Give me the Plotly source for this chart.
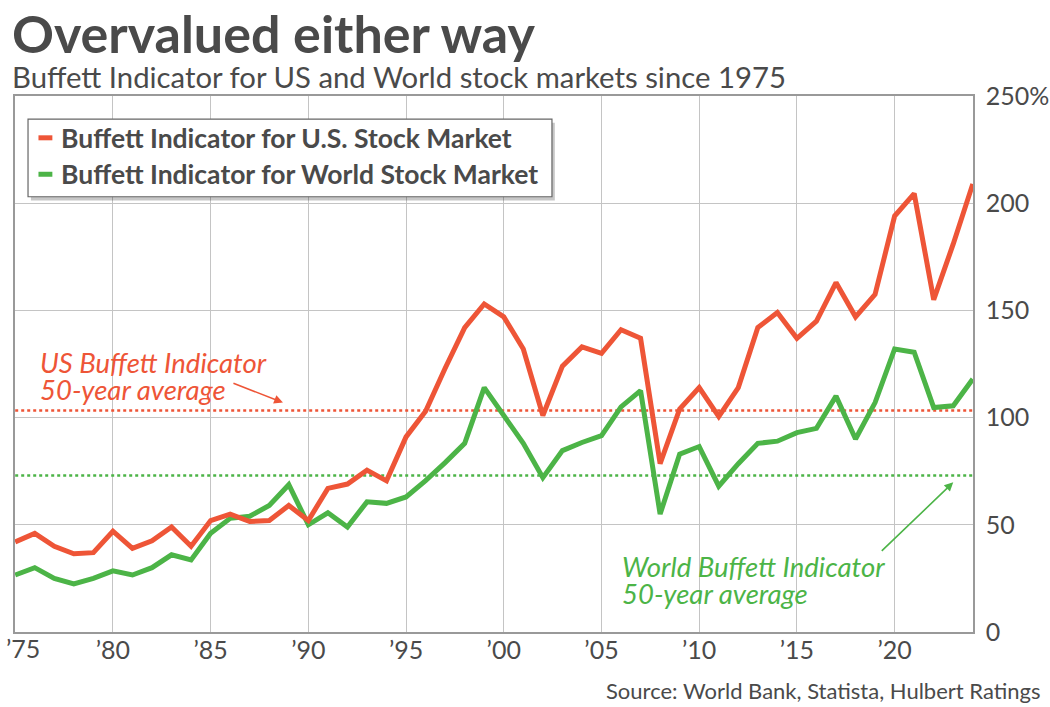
import plotly.graph_objects as go

years = list(range(1975, 2025))
us = [42, 46, 40, 36.5, 37, 47, 39, 42.5, 49, 40,
      52, 55, 51.5, 52, 59, 52, 67, 69, 75.5, 70.5,
      91, 103, 123, 142, 153, 147, 132, 101, 124, 133,
      130, 141, 137, 78.5, 104, 114, 100.5, 114, 142, 149,
      137, 145, 163, 147, 157.5, 194, 204.5, 155, 181, 209]
world = [26.6, 30, 25, 22.4, 25, 28.5, 26.6, 30, 36, 33.6,
         46, 53, 54, 59, 68.7, 50, 55.6, 49, 60.7, 60,
         63, 70.6, 79, 88, 114, 101, 88, 72, 84.6, 88.4,
         91.6, 105, 112.6, 55, 83, 86.5, 68, 78.5, 88, 89,
         93, 95, 110, 90, 107, 132, 130.5, 104.7, 105.5, 118]
us_avg = 103.3
world_avg = 73

x_ticks = [1975, 1980, 1985, 1990, 1995, 2000, 2005, 2010, 2015, 2020]
x_ticktext = ["\u201975", "\u201980", "\u201985", "\u201990", "\u201995",
              "\u201900", "\u201905", "\u201910", "\u201915", "\u201920"]
y_ticks = [0, 50, 100, 150, 200, 250]
y_ticktext = ["0", "50", "100", "150", "200", "250%"]

series_names = ["Buffett Indicator for U.S. Stock Market",
                "Buffett Indicator for World Stock Market"]

RED = "#ee5537"
GREEN = "#4cb447"
TXT = "#4a4a4a"
FONT = "Lato"

fig = go.Figure()
fig.add_trace(go.Scatter(x=[years[0], years[-1]], y=[us_avg, us_avg], mode="lines",
                         line=dict(color=RED, width=2.5, dash="dot"), showlegend=False, hoverinfo="skip"))
fig.add_trace(go.Scatter(x=[years[0], years[-1]], y=[world_avg, world_avg], mode="lines",
                         line=dict(color=GREEN, width=2.5, dash="dot"), showlegend=False, hoverinfo="skip"))
fig.add_trace(go.Scatter(x=years, y=world, mode="lines", name=series_names[1],
                         line=dict(color=GREEN, width=5), showlegend=False))
fig.add_trace(go.Scatter(x=years, y=us, mode="lines", name=series_names[0],
                         line=dict(color=RED, width=5), showlegend=False))

shapes = []
annotations = []

# custom legend (box with shadow)
L_x0, L_x1, L_y0, L_y1 = 0.0136, 0.5605, 0.812, 0.957
shapes.append(dict(type="rect", xref="paper", yref="paper",
                   x0=L_x0 + 0.003, x1=L_x1 + 0.003, y0=L_y0 - 0.007, y1=L_y1 - 0.007,
                   fillcolor="rgba(0,0,0,0.22)", line=dict(width=0), layer="above"))
shapes.append(dict(type="rect", xref="paper", yref="paper",
                   x0=L_x0, x1=L_x1, y0=L_y0, y1=L_y1,
                   fillcolor="white", line=dict(color="#666666", width=1.2), layer="above"))
leg_rows = [(series_names[0], RED, 0.922), (series_names[1], GREEN, 0.854)]
for name, col, yy in leg_rows:
    shapes.append(dict(type="line", xref="paper", yref="paper",
                       x0=0.0245, x1=0.0390, y0=yy, y1=yy,
                       line=dict(color=col, width=5), layer="above"))
    annotations.append(dict(xref="paper", yref="paper", x=0.0455, y=yy, xanchor="left",
                            yanchor="middle", showarrow=False, text="<b>" + name + "</b>",
                            font=dict(family=FONT, size=26.5, color=TXT)))

# average annotations (one annotation per line for tight line spacing)
for txt, xx, yy, col in [("US Buffett Indicator", 0.0235, 0.502, RED),
                         ("50-year average", 0.0235, 0.4515, RED),
                         ("World Buffett Indicator", 0.632, 0.1213, GREEN),
                         ("50-year average", 0.632, 0.0709, GREEN)]:
    annotations.append(dict(xref="paper", yref="paper", x=xx, y=yy, xanchor="left", yanchor="middle",
                            showarrow=False, align="left", text="<i>" + txt + "</i>",
                            font=dict(family=FONT, size=27.5, color=col)))
fig.update_layout(annotations=annotations, shapes=shapes)

# arrows (pixel offsets relative to tip)
fig.add_annotation(x=1988.7, y=107, xref="x", yref="y", ax=-51, ay=-20,
                   showarrow=True, arrowhead=2, arrowsize=1.1, arrowwidth=1.6,
                   arrowcolor=RED, text="")
fig.add_annotation(x=2023.0, y=69.8, xref="x", yref="y", ax=-73, ay=70,
                   showarrow=True, arrowhead=2, arrowsize=1.1, arrowwidth=1.6,
                   arrowcolor=GREEN, text="")

# first x tick label, drawn inside the page (reference shifts it right of its tick)
tick_text_shown = [""] + x_ticktext[1:]
fig.add_annotation(xref="paper", yref="paper", x=0, y=0, xanchor="left", yanchor="middle",
                   text=x_ticktext[0], showarrow=False, xshift=-11, yshift=-16,
                   font=dict(family=FONT, size=25, color=TXT))

# title, subtitle, source
fig.add_annotation(xref="paper", yref="paper", x=-0.005, y=1.0, yanchor="middle", xanchor="left",
                   text="<b>Overvalued either way</b>", showarrow=False,
                   font=dict(family=FONT, size=52, color="#4a4a4a"), yshift=96 - 33)
fig.add_annotation(xref="paper", yref="paper", x=-0.005, y=1.0, yanchor="middle", xanchor="left",
                   text="Buffett Indicator for US and World stock markets since 1975", showarrow=False,
                   font=dict(family=FONT, size=29.3, color="#4a4a4a"), yshift=96 - 76)
fig.add_annotation(xref="paper", yref="paper", x=1.0, y=0.0, yanchor="middle", xanchor="right",
                   text="Source: World Bank, Statista, Hulbert Ratings", showarrow=False,
                   font=dict(family=FONT, size=22, color="#4a4a4a"), xshift=1043 - 973, yshift=-(690 - 632))

fig.update_layout(
    width=1050, height=707,
    margin=dict(l=15, r=77, t=96, b=75, autoexpand=False),
    paper_bgcolor="white", plot_bgcolor="white",
    font=dict(family=FONT, color=TXT),
    xaxis=dict(range=[1974.99, 2024.01], tickvals=x_ticks, ticktext=tick_text_shown,
               showgrid=True, gridcolor="#c4c4c4", gridwidth=1,
               showline=True, linecolor="#999999", linewidth=1.5, mirror=True,
               ticks="", ticklabelstandoff=-5, automargin=False,
               tickfont=dict(family=FONT, size=25, color=TXT), zeroline=False),
    yaxis=dict(range=[0, 250], tickvals=y_ticks, ticktext=y_ticktext, side="right",
               showgrid=True, gridcolor="#c4c4c4", gridwidth=1,
               showline=True, linecolor="#999999", linewidth=1.5, mirror=True,
               ticks="", ticklabelstandoff=6, ticklabeloverflow="allow", automargin=False,
               tickfont=dict(family=FONT, size=25, color=TXT), zeroline=False),
    showlegend=False,
)

fig.write_html("out.html")
